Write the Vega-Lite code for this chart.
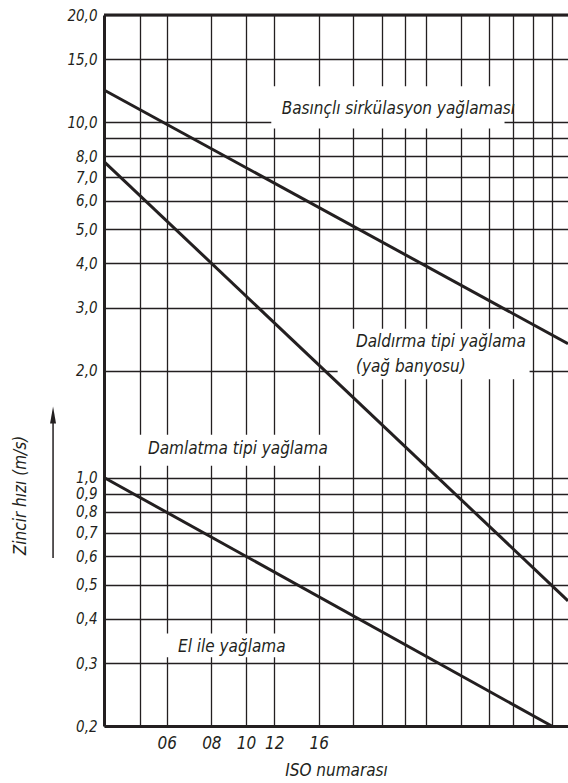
{
  "$schema": "https://vega.github.io/schema/vega-lite/v6.json",
  "width": 464,
  "height": 711,
  "autosize": {"type": "none"},
  "padding": {"left": 104, "top": 15, "right": 0, "bottom": 57},
  "background": "white",
  "config": {"view": {"stroke": null}, "font": "DejaVu Sans Condensed, Liberation Sans, sans-serif"},
  "datasets": {
    "lines": [
      {"lub": "Basınçlı sirkülasyon", "pitch": 6.35, "speed": 12.3},
      {"lub": "Basınçlı sirkülasyon", "pitch": 127, "speed": 2.38},
      {"lub": "Daldırma", "pitch": 6.35, "speed": 7.74},
      {"lub": "Daldırma", "pitch": 127, "speed": 0.45},
      {"lub": "Damlatma / El ile", "pitch": 6.35, "speed": 1.0},
      {"lub": "Damlatma / El ile", "pitch": 114.3, "speed": 0.2}
    ],
    "labels": [
      {"text": "Basınçlı sirkülasyon yağlaması", "pitch": 20.0, "speed": 10.9},
      {"text": "Daldırma tipi yağlama", "pitch": 32.3, "speed": 2.41},
      {"text": "(yağ banyosu)", "pitch": 32.3, "speed": 2.05},
      {"text": "Damlatma tipi yağlama", "pitch": 8.43, "speed": 1.2},
      {"text": "El ile yağlama", "pitch": 10.24, "speed": 0.333}
    ],
    "boxes": [
      {"pitch": 18.7, "pitch2": 84.3, "speed": 9.59, "speed2": 12.6},
      {"pitch": 28.7, "pitch2": 99.1, "speed": 1.89, "speed2": 2.62},
      {"pitch": 7.75, "pitch2": 26.4, "speed": 1.08, "speed2": 1.32},
      {"pitch": 8.55, "pitch2": 21.1, "speed": 0.312, "speed2": 0.364}
    ],
    "arrow": [{"pitch": 4.57, "speed": 0.594, "speed2": 1.45}],
    "arrowhead": [{"pitch": 4.57, "speed": 1.5}],
    "border": [{"speed": 20}]
  },
  "layer": [
    {
      "data": {"name": "boxes"},
      "mark": {"type": "rect", "fill": "white", "stroke": null},
      "encoding": {
        "x": {"field": "pitch", "type": "quantitative", "scale": {"type": "log", "domain": [6.35, 127], "nice": false},
          "axis": {
            "title": "ISO numarası",
            "values": [8, 9.525, 12.7, 15.875, 19.05, 25.4, 31.75, 38.1, 44.45, 50.8, 63.5, 76.2, 88.9, 101.6, 114.3],
            "labelExpr": "datum.value == 9.525 ? '06' : datum.value == 12.7 ? '08' : datum.value == 15.875 ? '10' : datum.value == 19.05 ? '12' : datum.value == 25.4 ? '16' : ''",
            "grid": true, "gridColor": "#231f20", "gridWidth": 1.3, "gridOpacity": 1,
            "ticks": false, "domainColor": "#231f20", "domainWidth": 3,
            "labelFontStyle": "italic", "labelFontSize": 17, "labelColor": "#231f20",
            "labelPadding": 9, "labelFlush": false, "labelOverlap": false,
            "titleFontStyle": "italic", "titleFontWeight": "normal", "titleFontSize": 17, "titleColor": "#231f20",
            "titlePadding": 11
          }},
        "x2": {"field": "pitch2"},
        "y": {"field": "speed", "type": "quantitative", "scale": {"type": "log", "domain": [0.2, 20], "nice": false},
          "axis": {
            "title": "Zincir hızı (m/s)",
            "values": [0.2, 0.3, 0.4, 0.5, 0.6, 0.7, 0.8, 0.9, 1, 2, 3, 4, 5, 6, 7, 8, 9, 10, 15, 20],
            "labelExpr": "datum.value == 9 ? '' : replace(format(datum.value, '.1f'), '.', ',')",
            "grid": true, "gridColor": "#231f20", "gridWidth": 1.3, "gridOpacity": 1,
            "ticks": false, "domainColor": "#231f20", "domainWidth": 3,
            "labelFontStyle": "italic", "labelFontSize": 15, "labelColor": "#231f20",
            "labelPadding": 7, "labelFlush": false, "labelOverlap": false,
            "titleFontStyle": "italic", "titleFontWeight": "normal", "titleFontSize": 17, "titleColor": "#231f20",
            "titleAngle": -90, "titleX": -84, "titleY": 480, "titleAlign": "center", "titleBaseline": "middle"
          }},
        "y2": {"field": "speed2"}
      }
    },
    {
      "data": {"name": "border"},
      "mark": {"type": "rule", "color": "#231f20", "strokeWidth": 3},
      "encoding": {
        "y": {"field": "speed", "type": "quantitative"}
      }
    },
    {
      "data": {"name": "lines"},
      "mark": {"type": "line", "color": "#231f20", "strokeWidth": 3},
      "encoding": {
        "x": {"field": "pitch", "type": "quantitative"},
        "y": {"field": "speed", "type": "quantitative"},
        "detail": {"field": "lub"}
      }
    },
    {
      "data": {"name": "labels"},
      "mark": {"type": "text", "align": "left", "baseline": "middle", "fontStyle": "italic", "fontSize": 17, "color": "#231f20"},
      "encoding": {
        "x": {"field": "pitch", "type": "quantitative"},
        "y": {"field": "speed", "type": "quantitative"},
        "text": {"field": "text"}
      }
    },
    {
      "data": {"name": "arrow"},
      "mark": {"type": "rule", "color": "#231f20", "strokeWidth": 1.5},
      "encoding": {
        "x": {"field": "pitch", "type": "quantitative"},
        "y": {"field": "speed", "type": "quantitative"},
        "y2": {"field": "speed2"}
      }
    },
    {
      "data": {"name": "arrowhead"},
      "mark": {"type": "point", "shape": "M0,-1L0.35,1L-0.35,1Z", "filled": true, "color": "#231f20", "size": 289, "opacity": 1},
      "encoding": {
        "x": {"field": "pitch", "type": "quantitative"},
        "y": {"field": "speed", "type": "quantitative"}
      }
    }
  ]
}
